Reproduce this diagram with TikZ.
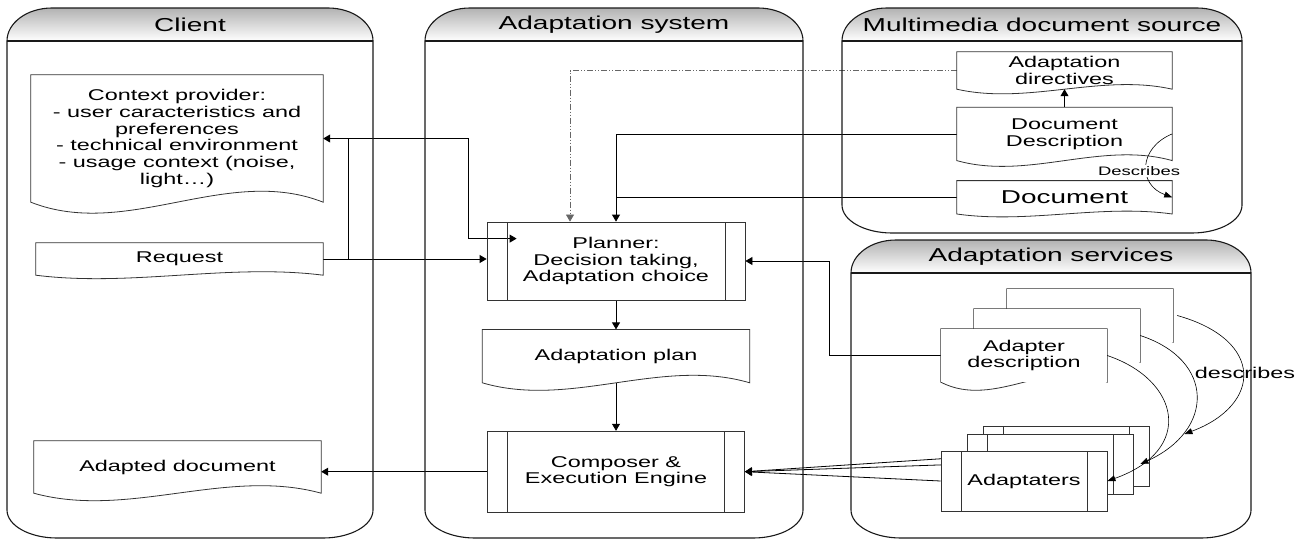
\documentclass[tikz,border=0pt]{standalone}
\usepackage{fontspec}
\setmainfont{Liberation Sans}[FakeStretch=1.5]
\usepackage{tikz}
\usetikzlibrary{arrows.meta,calc,positioning}
\pgfdeclarelayer{background}
\pgfsetlayers{background,main}

\tikzset{
  lane/.style={draw=black!90, line width=1.1pt},
  lanetitle/.style={font=\fontsize{18.7}{20}\selectfont},
  docline/.style={draw=black!80, line width=0.8pt},
  % document shape: box with a wavy lower edge, #1 = depth of the wave
  docbox/.style={rectangle, align=center, inner sep=1pt,
    append after command={\pgfextra{\let\docnode\tikzlastnode
      \draw[docline] (\docnode.north west) -- (\docnode.north east) -- (\docnode.south east)
        .. controls ($(\docnode.south east)!0.33!(\docnode.south west)+(0,-#1)$)
        and ($(\docnode.south east)!0.67!(\docnode.south west)+(0,#1)$) .. (\docnode.south west) -- cycle;}}},
  % process box with a double line on both sides
  procbox/.style={rectangle, docline, align=center,
    path picture={\draw[docline]
      ([xshift=20pt]path picture bounding box.north west) -- ([xshift=20pt]path picture bounding box.south west)
      ([xshift=-20pt]path picture bounding box.north east) -- ([xshift=-20pt]path picture bounding box.south east);}},
  link/.style={line width=0.8pt},
  flow/.style={link, -{Triangle[length=7pt,width=8pt]}},
  directive/.style={line width=0.7pt, black!60, dash pattern=on 6pt off 2pt on 1pt off 2pt on 1pt off 2pt,
    -{Triangle[length=7pt,width=8pt]}},
  describe/.style={line width=0.6pt, -{Triangle[length=8pt,width=6pt]}}
}

\begin{document}
\begin{tikzpicture}[x=1pt, y=-1pt, every node/.style={font=\fontsize{15.6}{16.7}\selectfont}]
  \useasboundingbox (0,0) rectangle (1306,541);

  % swimlanes
  \foreach \xa/\ya/\xb/\yb/\lname/\ltitle in {
      7/8/373/538/client/Client,
      425/8/803/538/system/Adaptation system,
      842/8/1242/233/source/Multimedia document source,
      851/240/1251/538/services/Adaptation services}{
    \shade[top color=black!30, bottom color=white]
      (\xa,\ya+33) arc[start angle=180, end angle=270, x radius=45, y radius=33]
      -- (\xb-45,\ya) arc[start angle=270, end angle=360, x radius=45, y radius=33] -- cycle;
    \draw[lane]
      (\xa,\ya+33) arc[start angle=180, end angle=270, x radius=45, y radius=33]
      -- (\xb-45,\ya) arc[start angle=270, end angle=360, x radius=45, y radius=33]
      -- (\xb,\yb-28) arc[start angle=0, end angle=90, x radius=50, y radius=28]
      -- (\xa+50,\yb) arc[start angle=90, end angle=180, x radius=50, y radius=28] -- cycle;
    \draw[lane] (\xa,\ya+33) -- (\xb,\ya+33);
    \node[lanetitle] (\lname) at ({(\xa+\xb)/2},\ya+17) {\ltitle};
  }

  % client
  \node[docbox=38, minimum width=292pt, minimum height=127pt] (ctx) at (177,138.5)
    {Context provider:\\- user caracteristics and\\preferences\\- technical environment\\- usage context (noise,\\light…)};
  \node[docbox=12, minimum width=287pt, minimum height=32pt] (req) at (179.5,259) {Request};
  \node[docbox=26, minimum width=287pt, minimum height=52pt] (adapted) at (177.5,467) {Adapted document};

  % adaptation system
  \node[procbox, minimum width=258pt, minimum height=78pt] (planner) at (616,261)
    {Planner:\\Decision taking,\\Adaptation choice};
  \node[docbox=26, minimum width=267pt, minimum height=53pt, below=29pt of planner] (plan) {Adaptation plan};
  \node[procbox, minimum width=257pt, minimum height=81pt, below=48pt of plan] (composer)
    {Composer \&\\Execution Engine};
  \coordinate (pin) at ($(planner.north west)+(30,17)$);

  % document source
  \node[docbox=16, minimum width=215pt, minimum height=37pt] (directives) at (1064.5,70.5)
    {Adaptation\\directives};
  \node[docbox=20, minimum width=215pt, minimum height=53pt, below=18pt of directives] (descr)
    {Document\\Description};
  \node[docbox=10, minimum width=215pt, minimum height=33pt, below=20pt of descr, font=\fontsize{18.6}{20}\selectfont] (doc)
    {Document};

  % adaptation services, back copies first
  \node[docbox=28, fill=white, minimum width=166pt, minimum height=53pt] (dd3) at (1090,315.5) {};
  \node[docbox=28, fill=white, minimum width=166pt, minimum height=53pt] (dd2) at (1057,335.5) {};
  \node[docbox=28, fill=white, minimum width=166pt, minimum height=53pt] (dd1) at (1024,355.5)
    {Adapter\\description};
  \node[procbox, fill=white, minimum width=166pt, minimum height=60pt] (ad3) at (1066,456) {};
  \node[procbox, fill=white, minimum width=166pt, minimum height=60pt] (ad2) at (1050,464) {};
  \node[procbox, fill=white, minimum width=166pt, minimum height=60pt] (ad1) at (1024,481) {Adaptaters};

  \begin{pgfonlayer}{background}
    \draw[directive] (directives.west) -| ([xshift=-46pt]planner.north);
    \draw[flow] (descr.west) -| (planner.north);
    \draw[link] (doc.west) -- (doc.west -| planner.north);
    \draw[link, {Triangle[length=7pt,width=8pt]}-{Triangle[length=7pt,width=8pt]}]
      (ctx.east) -| ($(pin)+(-48,0)$) -- (pin);
    \draw[flow] (req.east) -- (req.east -| planner.west);
    \draw[link] (req.east) -| ($(ctx.east)+(25,0)$);
    \draw[flow] (planner.south) -- (planner.south |- plan.north);
    \draw[flow] (plan.south) -- (plan.south |- composer.north);
    \draw[flow] (composer.west) -- (composer.west -| adapted.east);
    \draw[flow] (dd1.west) -- ++(-111,0) |- (planner.east);
    \foreach \a in {ad1,ad2,ad3}
      \draw[flow] (\a.west) -- (composer.east);
  \end{pgfonlayer}

  \draw[flow] (descr.north) -- (directives.south);
  \draw[describe] (descr.east) .. controls (1138,148) and (1138,185) .. (doc.east);
  \node[fill=white, inner sep=1pt, font=\fontsize{12.3}{13}\selectfont] (describeslbl) at (1139,171) {Describes};

  \draw[describe] ([xshift=4pt]dd3.east) .. controls (1265,340) and (1262,405) .. ([shift={(35,-22)}]ad3.east);
  \draw[describe] (dd2.east) .. controls (1215,360) and (1215,430) .. ([xshift=7pt]ad2.east);
  \draw[describe] (dd1.east) .. controls (1180,380) and (1195,450) .. (ad1.east);
  \node (describeslbl2) at (1245,373) {describes};
\end{tikzpicture}
\end{document}
